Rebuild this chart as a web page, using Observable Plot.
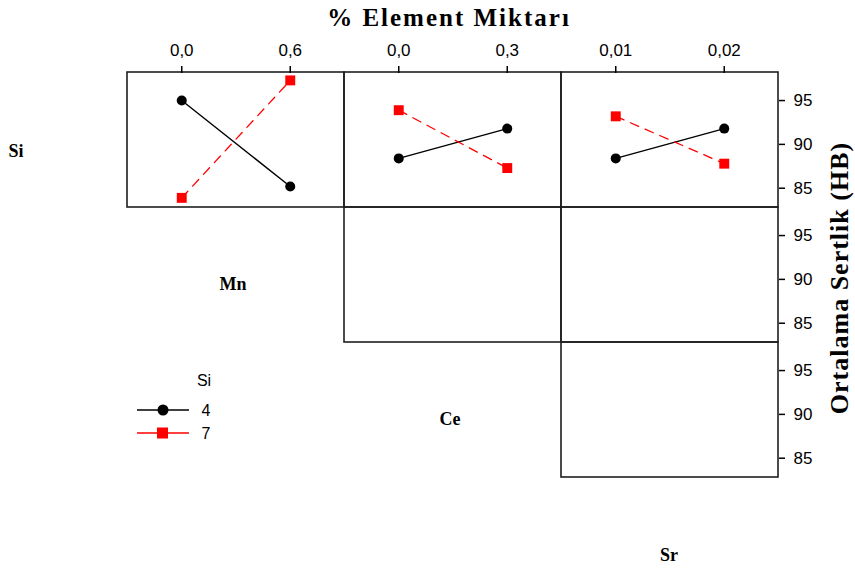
<!DOCTYPE html>
<html>
<head>
<meta charset="utf-8">
<script src="https://cdn.jsdelivr.net/npm/d3@7"></script>
<script src="https://cdn.jsdelivr.net/npm/@observablehq/plot@0.6"></script>
<style>
  body { margin: 0; background: #fff; }
  #chart { position: relative; width: 855px; height: 568px; }
</style>
</head>
<body>
<div id="chart"></div>
<script>
// ---- data ----
const panelFactors = ["Mn", "Ce", "Sr"];      // plot columns
const rowFactors = ["Si", "Mn", "Ce"];        // plot rows
const mnLevels = ["0,0", "0,6"];
const ceLevels = ["0,0", "0,3"];
const srLevels = ["0,01", "0,02"];
const siGroups = ["4", "7"];
const si4Mn = [95.0, 85.2];
const si4Ce = [88.4, 91.8];
const si4Sr = [88.4, 91.8];
const si7Mn = [83.9, 97.3];
const si7Ce = [93.9, 87.3];
const si7Sr = [93.2, 87.8];
const yTicks = [85, 90, 95];
const titleText = "% Element Miktarı";
const yTitleText = "Ortalama Sertlik (HB)";
const legendTitle = "Si";

// ---- build tables ----
const levelsBy = {Mn: mnLevels, Ce: ceLevels, Sr: srLevels};
const meansBy = {"4": {Mn: si4Mn, Ce: si4Ce, Sr: si4Sr}, "7": {Mn: si7Mn, Ce: si7Ce, Sr: si7Sr}};
const points = [];
for (const g of siGroups) for (const f of panelFactors) meansBy[g][f].forEach((v, i) =>
  points.push({row: rowFactors[0], col: f, level: i, si: g, value: v}));
const tickData = [];
for (const f of panelFactors) levelsBy[f].forEach((lab, i) => tickData.push({row: rowFactors[0], col: f, level: i, label: lab}));
const cells = [];
rowFactors.forEach((r, ri) => panelFactors.forEach((c, ci) => { if (ci >= ri) cells.push({row: r, col: c}); }));
const diagInner = [{row: "Mn", col: "Mn", text: "Mn"}, {row: "Ce", col: "Ce", text: "Ce"}];
const diagLeft = [{row: "Si", col: "Mn", text: "Si"}];
const diagBelow = [{row: "Ce", col: "Sr", text: "Sr"}];

const pts4 = points.filter(d => d.si === "4");
const pts7 = points.filter(d => d.si === "7");
const serif = "'Liberation Serif', 'Times New Roman', serif";
const sans = "'Liberation Sans', Arial, sans-serif";

const chart = Plot.plot({
  width: 855,
  height: 568,
  marginLeft: 127,
  marginRight: 77,
  marginTop: 71,
  marginBottom: 90,
  style: {fontFamily: sans, fontSize: "17px", color: "#000", background: "#fff"},
  fx: {domain: panelFactors, padding: 0, axis: null},
  fy: {domain: rowFactors, padding: 0, axis: null},
  x: {domain: [-0.5, 1.5]},
  y: {domain: [82.8, 98.2]},
  marks: [
    Plot.rect(cells, {fx: "col", fy: "row", stroke: "#1e1e1e", strokeWidth: 1.6, fill: "none"}),
    Plot.axisX({anchor: "top", ticks: [0, 1], tickSize: 7, tickFormat: () => "", label: null, strokeWidth: 1.5}),
    Plot.text(tickData, {fx: "col", fy: "row", x: "level", text: "label", frameAnchor: "top", lineAnchor: "bottom", dy: -17, fontSize: 17}),
    Plot.axisY({anchor: "right", ticks: yTicks, tickSize: 6, tickPadding: 9, label: null, fontSize: 17, strokeWidth: 1.5}),
    Plot.line(pts4, {fx: "col", fy: "row", x: "level", y: "value", stroke: "#000", strokeWidth: 1.4}),
    Plot.line(pts7, {fx: "col", fy: "row", x: "level", y: "value", stroke: "#ff0000", strokeWidth: 1.3, strokeDasharray: "9,7"}),
    Plot.dot(pts4, {fx: "col", fy: "row", x: "level", y: "value", symbol: "circle", r: 5, fill: "#000"}),
    Plot.dot(pts7, {fx: "col", fy: "row", x: "level", y: "value", symbol: "square", r: 5.6, fill: "#ff0000"}),
    Plot.text(diagInner, {fx: "col", fy: "row", text: "text", frameAnchor: "middle", dx: -3, dy: 9, fontFamily: serif, fontWeight: "bold", fontSize: 18}),
    Plot.text(diagLeft, {fx: "col", fy: "row", text: "text", frameAnchor: "middle", dx: -220, dy: 11, fontFamily: serif, fontWeight: "bold", fontSize: 18}),
    Plot.text(diagBelow, {fx: "col", fy: "row", text: "text", frameAnchor: "middle", dx: -1, dy: 145, fontFamily: serif, fontWeight: "bold", fontSize: 18})
  ]
});
document.getElementById("chart").appendChild(chart);

// titles and legend (text, not data)
const svg = d3.select(chart);
svg.append("text").attr("x", 449).attr("y", 26).attr("text-anchor", "middle")
  .attr("font-family", serif).attr("font-weight", "bold").attr("font-size", 25).attr("letter-spacing", 2)
  .attr("fill", "#000").text(titleText);
svg.append("text").attr("transform", "translate(848,278) rotate(-90)").attr("text-anchor", "middle")
  .attr("font-family", serif).attr("font-weight", "bold").attr("font-size", 26).attr("letter-spacing", 1)
  .attr("fill", "#000").text(yTitleText);

const lg = svg.append("g").attr("font-family", sans).attr("font-size", 16).attr("fill", "#000");
lg.append("text").attr("x", 204).attr("y", 386).attr("text-anchor", "middle").text(legendTitle);
const legendStyles = [
  {g: siGroups[0], color: "#000", sym: "circle", y: 410},
  {g: siGroups[1], color: "#ff0000", sym: "square", y: 433}
];
for (const s of legendStyles) {
  lg.append("line").attr("x1", 137).attr("x2", 189).attr("y1", s.y).attr("y2", s.y).attr("stroke", s.color).attr("stroke-width", 1.4);
  if (s.sym === "circle") lg.append("circle").attr("cx", 163).attr("cy", s.y).attr("r", 5.5).attr("fill", s.color);
  else lg.append("rect").attr("x", 157).attr("y", s.y - 5.5).attr("width", 11).attr("height", 11).attr("fill", s.color);
  lg.append("text").attr("x", 206).attr("y", s.y + 6).text(s.g);
}
</script>
</body>
</html>
